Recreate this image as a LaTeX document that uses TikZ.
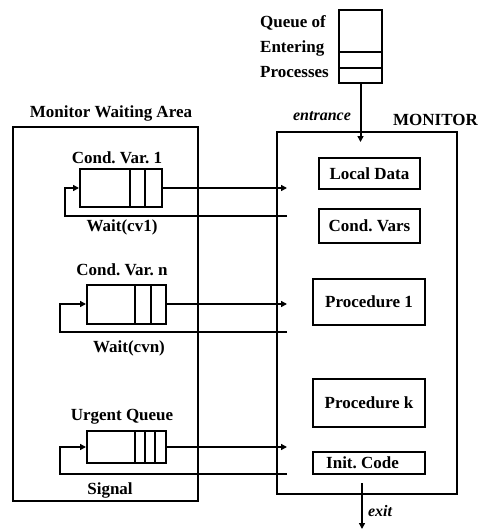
\documentclass[tikz,border=0pt]{standalone}
\usepackage{fontspec}
\setmainfont{Liberation Serif}
\usetikzlibrary{arrows.meta}
\frenchspacing

\begin{document}
\begin{tikzpicture}[x=1pt,y=-1pt,
  lbl/.style={font=\bfseries\fontsize{17}{19}\selectfont, inner sep=0pt},
  ital/.style={font=\bfseries\itshape\fontsize{16}{18}\selectfont, inner sep=0pt},
  box/.style={draw, line width=2pt, inner sep=0pt, font=\bfseries\fontsize{17}{19}\selectfont},
  ln/.style={line width=2pt},
  arr/.style={ln, -{Triangle[length=6pt,width=6pt]}},
]
\useasboundingbox (0,0) rectangle (478,531);

% ---- outer areas ----
\node[box, minimum width=185pt, minimum height=374pt] (wait) at (105.5,314) {};
\node[lbl] (waitlbl) at (111,113) {Monitor Waiting Area};
\node[box, minimum width=180pt, minimum height=362pt] (mon) at (367,313) {};
\node[lbl, anchor=east] (monlbl) at (478,120) {MONITOR};

% ---- entry queue ----
\node[box, minimum width=43pt, minimum height=73pt] (entq) at (360.5,46.5) {};
\draw[ln] (339,52) -- (382,52);
\draw[ln] (339,68) -- (382,68);
\node[lbl, anchor=west] (eq1) at (260,23) {Queue of};
\node[lbl, anchor=west] (eq2) at (260,48) {Entering};
\node[lbl, anchor=west] (eq3) at (260,72) {Processes};
\coordinate (entin) at (360.5,142);
\draw[arr] (entq.south) -- (entin);
\node[ital] (entlbl) at (322,116) {entrance};

% ---- monitor contents ----
\node[box, minimum width=101pt, minimum height=31pt] (ldata) at (369.5,173.5) {Local Data};
\node[box, minimum width=101pt, minimum height=34pt] (cvars) at (369.5,226) {Cond. Vars};
\node[box, minimum width=112pt, minimum height=46pt] (proc1) at (369,302) {Procedure 1};
\node[box, minimum width=112pt, minimum height=48pt] (prock) at (369,403) {Procedure k};
\node[box, minimum width=112pt, minimum height=22pt] (init) at (369,463) {};
\node[lbl, anchor=west] (initlbl) at (326,463) {Init. Code};

% ---- exit ----
\coordinate (exfrom) at (362,483);
\coordinate (exto) at (362,529);
\draw[arr] (exfrom) -- (exto);
\node[ital] (exlbl) at (380,511) {exit};

% ---- condition variable 1 ----
\node[lbl] (cv1lbl) at (117,158) {Cond. Var. 1};
\node[box, minimum width=82pt, minimum height=38pt] (cv1) at (121,188) {};
\draw[ln] (130,169) -- (130,207);
\draw[ln] (145,169) -- (145,207);
\coordinate (in1) at (287,188);
\coordinate (r1) at (287,216);
\coordinate (l1) at (65,216);
\draw[arr] (cv1.east) -- (in1);
\draw[arr] (r1) -- (l1) |- (cv1.west);
\node[lbl] (w1lbl) at (122,227) {Wait(cv1)};

% ---- condition variable n ----
\node[lbl] (cvnlbl) at (122,270) {Cond. Var. n};
\node[box, minimum width=79pt, minimum height=39pt] (cvn) at (126.5,304) {};
\draw[ln] (135,284.5) -- (135,323.5);
\draw[ln] (151,284.5) -- (151,323.5);
\coordinate (inn) at (287,304);
\coordinate (rn) at (287,332);
\coordinate (lnn) at (60,332);
\draw[arr] (cvn.east) -- (inn);
\draw[arr] (rn) -- (lnn) |- (cvn.west);
\node[lbl] (wnlbl) at (129,348) {Wait(cvn)};

% ---- urgent queue ----
\node[lbl] (uqlbl) at (122,417) {Urgent Queue};
\node[box, minimum width=79pt, minimum height=32pt] (uq) at (126.5,447) {};
\draw[ln] (135,431) -- (135,463);
\draw[ln] (145,431) -- (145,463);
\draw[ln] (155,431) -- (155,463);
\coordinate (inu) at (287,447);
\coordinate (ru) at (287,474);
\coordinate (lu) at (60,474);
\draw[arr] (uq.east) -- (inu);
\draw[arr] (ru) -- (lu) |- (uq.west);
\node[lbl] (siglbl) at (110,490) {Signal};
\end{tikzpicture}
\end{document}
